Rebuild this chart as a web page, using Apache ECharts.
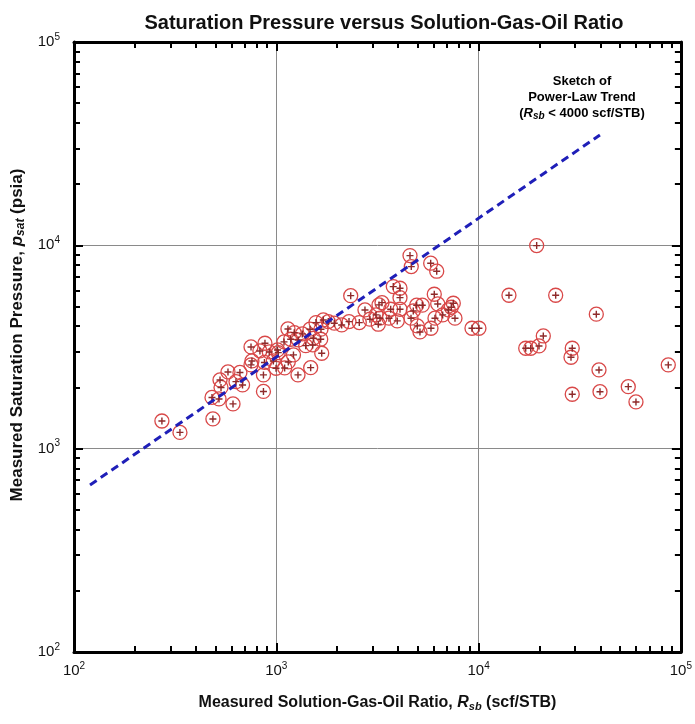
<!DOCTYPE html>
<html>
<head>
<meta charset="utf-8">
<script src="https://cdn.jsdelivr.net/npm/echarts@6/dist/echarts.min.js"></script>
<style>
html, body { margin: 0; padding: 0; background: #fff; }
#chart { width: 695px; height: 724px; }
</style>
</head>
<body>
<div id="chart"></div>
<script>
// measured Rsb (scf/STB) and psat (psia)
var rsb = [272, 334, 486, 481, 521, 611, 533, 527, 577, 661, 632, 681, 750, 750, 830, 879, 923, 864, 864, 874,
    758, 1014, 997, 967, 1142, 1227, 1178, 1092, 1216, 1146, 1100, 1023, 1280, 1345, 1285, 1398, 1514, 1468, 1571, 1663,
    1708, 1658, 1524, 1677, 1479, 1807, 1935, 2105, 2288, 2572, 2333, 2744, 2904, 3111, 3219, 4581, 4648, 5797, 6209, 3787,
    4088, 4088, 6039, 6281, 7499, 7329, 3330, 3677, 4088, 3255, 3606, 3963, 3193, 4943, 5269, 4755, 4634, 4977, 5131, 5817,
    6087, 6645, 7082, 7644, 9276, 10040, 19370, 14130, 24050, 38190, 20890, 19890, 18100, 17100, 29040, 28630, 39370, 86640, 29040, 39830,
    54950, 59980];
var psat = [1368, 1202, 1400, 1786, 1756, 1660, 2000, 2178, 2384, 2371, 2136, 2058, 2582, 3164, 3024, 3300, 2990, 2305, 1912, 2655,
    2700, 3059, 2486, 2700, 3879, 3721, 3452, 3350, 2891, 2670, 2495, 2967, 2305, 3667, 3426, 3211, 3236, 3868, 4168, 3868,
    4295, 3452, 3492, 2946, 2503, 4215, 4140, 4060, 4215, 4168, 5657, 4812, 4332, 4548, 5093, 8901, 7858, 8166, 7459, 6266,
    6152, 5530, 5747, 5150, 5191, 4961, 5224, 4850, 4850, 4381, 4381, 4249, 4093, 5076, 5076, 4758, 4381, 4015, 3750, 3910,
    4381, 4548, 4812, 4381, 3910, 3910, 9970, 5683, 5683, 4584, 3583, 3200, 3118, 3118, 3118, 2816, 2439, 2582, 1852, 1906,
    2018, 1697];

// hand-drawn power-law sketch, end points
var trendRsb = [120, 39800];
var trendPsat = [663, 34900];

var majorTicks = [100, 1000, 10000, 100000];
var minorTicks = [200, 300, 400, 500, 600, 700, 800, 900,
    2000, 3000, 4000, 5000, 6000, 7000, 8000, 9000,
    20000, 30000, 40000, 50000, 60000, 70000, 80000, 90000];

var FONT = '"Liberation Sans", Arial, sans-serif';

var points = rsb.map(function (v, i) { return [v, psat[i]]; });
var trend = trendRsb.map(function (v, i) { return [v, trendPsat[i]]; });

var labelRich = {
    b: { fontSize: 15, color: '#111', fontFamily: FONT },
    s: { fontSize: 10, color: '#111', fontFamily: FONT, padding: [0, 0, 10, 0] }
};
function powLabel(v) {
    return '{b|10}{s|' + Math.round(Math.log10(v)) + '}';
}

function makeAxis(pos, main, minor) {
    return {
        type: 'log',
        logBase: 10,
        min: 100,
        max: 100000,
        position: pos,
        axisLine: { show: main, lineStyle: { color: '#000', width: 3 } },
        axisTick: {
            show: true,
            inside: true,
            length: minor ? 6 : 9,
            customValues: minor ? minorTicks : majorTicks,
            lineStyle: { color: '#000', width: 2 }
        },
        minorTick: { show: false },
        axisLabel: {
            show: main && (pos == 'bottom' || pos == 'left'),
            customValues: majorTicks,
            formatter: powLabel,
            rich: labelRich,
            margin: 9
        },
        splitLine: {
            show: main && (pos == 'bottom' || pos == 'left'),
            lineStyle: { color: '#8a8a8a', width: 1 }
        }
    };
}

var xAx = [makeAxis('bottom', true, false), makeAxis('top', true, false),
    makeAxis('bottom', false, true), makeAxis('top', false, true)];
var yAx = [makeAxis('left', true, false), makeAxis('right', true, false),
    makeAxis('left', false, true), makeAxis('right', false, true)];

function nameRich(size) {
    return {
        n: { fontSize: size, fontWeight: 'bold', color: '#111', fontFamily: FONT },
        i: { fontSize: size, fontWeight: 'bold', fontStyle: 'italic', color: '#111', fontFamily: FONT },
        sub: { fontSize: size - 5, fontWeight: 'bold', fontStyle: 'italic', color: '#111', fontFamily: FONT, padding: [7, 0, 0, 0] }
    };
}
xAx[0].name = '{n|Measured Solution-Gas-Oil Ratio, }{i|R}{sub|sb}{n| (scf/STB)}';
xAx[0].nameLocation = 'middle';
xAx[0].nameGap = 42;
xAx[0].nameTextStyle = { rich: nameRich(16) };
yAx[0].name = '{n|Measured Saturation Pressure, }{i|p}{sub|sat}{n| (psia)}';
yAx[0].nameLocation = 'middle';
yAx[0].nameGap = 41;
yAx[0].nameRotate = 90;
yAx[0].nameTextStyle = { rich: nameRich(17), padding: [0, 0, 0, 24] };
yAx[0].axisLabel.margin = 14;

var myChart = echarts.init(document.getElementById('chart'));

var option = {
    backgroundColor: '#fff',
    animation: false,
    title: {
        text: 'Saturation Pressure versus Solution-Gas-Oil Ratio',
        left: 379,
        top: 8,
        textAlign: 'center',
        textStyle: { fontSize: 20, fontWeight: 'bold', color: '#111', fontFamily: FONT }
    },
    grid: { left: 74, right: 14, top: 42, bottom: 72 },
    xAxis: xAx,
    yAxis: yAx,
    graphic: [{
        type: 'text',
        x: 582,
        y: 73,
        z: 50,
        style: {
            text: '{t|Sketch of}\n{t|Power-Law Trend}\n{t|(}{ti|R}{ts|sb}{t| < 4000 scf/STB)}',
            align: 'center',
            rich: {
                t: { fontSize: 13, fontWeight: 'bold', color: '#2b2bbd', fontFamily: FONT, lineHeight: 16 },
                ti: { fontSize: 13, fontWeight: 'bold', fontStyle: 'italic', color: '#2b2bbd', fontFamily: FONT, lineHeight: 16 },
                ts: { fontSize: 10, fontWeight: 'bold', fontStyle: 'italic', color: '#2b2bbd', fontFamily: FONT, padding: [6, 0, 0, 0], lineHeight: 16 }
            }
        }
    }],
    series: [
        { // circles
            type: 'scatter',
            data: points,
            symbol: 'circle',
            symbolSize: 14,
            z: 2,
            itemStyle: { color: 'rgba(255,255,255,0)', borderColor: '#d94848', borderWidth: 1.3, opacity: 1 }
        },
        { // plus inside
            type: 'scatter',
            data: points,
            symbol: 'path://M4,0 H6 V4 H10 V6 H6 V10 H4 V6 H0 V4 H4 Z',
            symbolSize: 7,
            z: 3,
            itemStyle: { color: '#8e2a2a', opacity: 1 }
        },
        {
            type: 'line',
            data: trend,
            symbol: 'none',
            z: 5,
            lineStyle: { color: '#1f1fb8', width: 3, type: [8, 5] }
        }
    ]
};

myChart.setOption(option);
</script>
</body>
</html>
